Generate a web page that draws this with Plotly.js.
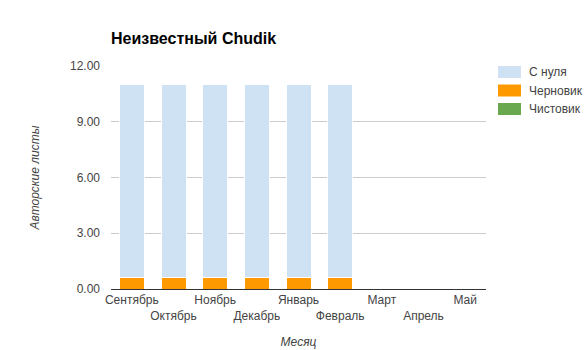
<!DOCTYPE html>
<html>
<head>
<meta charset="utf-8">
<script src="https://cdn.plot.ly/plotly-3.0.1.min.js"></script>
<style>html,body{margin:0;padding:0;background:#fff;}#chart{width:585px;height:350px;}</style>
</head>
<body>
<div id="chart"></div>
<script>
const months = ["Сентябрь","Октябрь","Ноябрь","Декабрь","Январь","Февраль","Март","Апрель","Май"];
const fromScratch = [10.4,10.4,10.4,10.4,10.4,10.4,0,0,0];
const draft = [0.6,0.6,0.6,0.6,0.6,0.6,0,0,0];
const clean = [0,0,0,0,0,0,0,0,0];
const yTicks = [0,3,6,9,12];
const seriesNames = ["С нуля","Черновик","Чистовик"];
const seriesColors = ["#cfe2f3","#ff9900","#6aa84f"];

const tickText = months.map((m,i)=> i%2===1 ? "<br>"+m : m);

const traces = [
  {type:'bar', x: months, y: draft, name: seriesNames[1], marker:{color: seriesColors[1], line:{color:'#ffffff', width:1}}},
  {type:'bar', x: months, y: fromScratch, name: seriesNames[0], marker:{color: seriesColors[0], line:{color:'#ffffff', width:1}}},
  {type:'bar', x: months, y: clean, name: seriesNames[2], marker:{color: seriesColors[2], line:{color:'#ffffff', width:0}}}
];

// custom legend (Google-charts style swatches)
const shapes = [], annotations = [];
const legX0 = 498, legW = 23, legH = 12, legY0 = 72, legStep = 18.5;
seriesNames.forEach((n,i)=>{
  const cy = legY0 + i*legStep;
  shapes.push({type:'rect', xref:'paper', yref:'paper',
    x0:(legX0-111)/375, x1:(legX0+legW-111)/375,
    y0:(289-(cy+legH/2))/223, y1:(289-(cy-legH/2))/223,
    fillcolor: seriesColors[i], line:{width:0}});
  annotations.push({xref:'paper', yref:'paper', x:(527-111)/375, y:(289-cy)/223,
    xanchor:'left', yanchor:'middle', text:n, showarrow:false,
    font:{size:12, color:'#444444'}});
});

const layout = {
  width:585, height:350,
  margin:{l:111, r:99, t:66, b:61},
  paper_bgcolor:'#ffffff', plot_bgcolor:'#ffffff',
  font:{family:'Arial, "Liberation Sans", sans-serif', size:12, color:'#444444'},
  barmode:'stack', bargap:0.4,
  showlegend:false,
  shapes: shapes, annotations: annotations,
  title:{text:'<b>Неизвестный Chudik</b>', font:{size:16, color:'#000000'}, xref:'container', x:111/585, xanchor:'left', yref:'container', y:1-38/350, yanchor:'middle'},
  xaxis:{
    tickmode:'array', tickvals: months, ticktext: tickText, tickangle:0,
    showgrid:false, showline:true, linecolor:'#333333', linewidth:1,
    ticks:'', tickfont:{size:12, color:'#444444'},
    title:{text:'<i>Месяц</i>', font:{size:12, color:'#444444'}, standoff:15},
    automargin:false, fixedrange:true
  },
  yaxis:{
    range:[0,12], tickmode:'array', tickvals: yTicks, ticktext: yTicks.map(v=>v.toFixed(2)),
    showgrid:true, gridcolor:'#cccccc', gridwidth:1, zeroline:false, showline:false,
    ticks:'', ticklabelstandoff:10, tickfont:{size:12, color:'#444444'},
    title:{text:'<i>Авторские листы</i>', font:{size:12, color:'#444444'}, standoff:27},
    automargin:false, fixedrange:true
  }
};

Plotly.newPlot('chart', traces, layout, {displayModeBar:false, staticPlot:true});
</script>
</body>
</html>
